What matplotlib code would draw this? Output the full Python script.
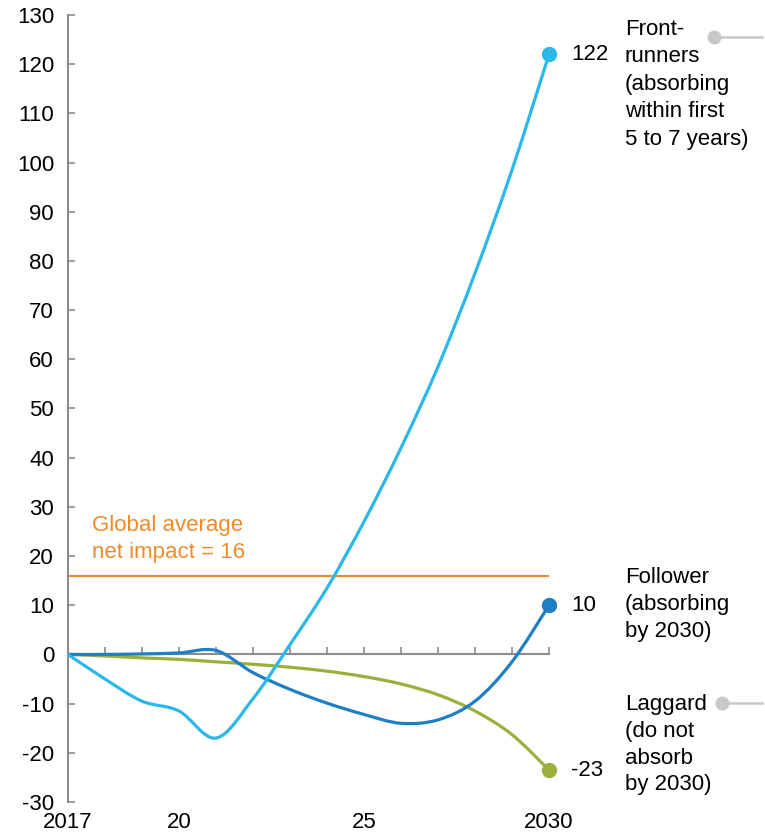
import numpy as np
import matplotlib.pyplot as plt
from matplotlib.path import Path
from matplotlib.patches import PathPatch
from matplotlib.lines import Line2D

plt.rcParams['font.family'] = ['Liberation Sans', 'DejaVu Sans']
plt.rcParams['axes.unicode_minus'] = False

years = [2017, 2018, 2019, 2020, 2021, 2022, 2023, 2024, 2025, 2026, 2027, 2028, 2029, 2030]
front_runners = [0, -5, -9.5, -11.5, -17, -9, 2, 13.5, 27, 42, 58.5, 77.5, 98.5, 122]
follower = [0, 0, 0.1, 0.3, 0.8, -3.7, -7.1, -9.9, -12.2, -14, -13.3, -9.5, -1.5, 10]
laggard = [0, -0.3, -0.7, -1.0, -1.5, -2.0, -2.6, -3.4, -4.5, -6.0, -8.2, -11.5, -16.3, -23.5]
global_avg = 16
end_labels = ['122', '10', '-23']

c_front = '#2cb7ea'
c_follow = '#1f7fc3'
c_lag = '#9bb03c'
c_avg = '#f08a2a'
c_axis = '#8c8c8c'
fs = 16


def smooth_path(x, y):
    # catmull-rom -> cubic bezier, drawn as a matplotlib path
    p = np.column_stack([x, y]).astype(float)
    p_ext = np.vstack([p[0], p, p[-1]])
    verts = [p[0]]
    codes = [Path.MOVETO]
    for i in range(len(p) - 1):
        p0, p1, p2, p3 = p_ext[i], p_ext[i + 1], p_ext[i + 2], p_ext[i + 3]
        verts += [p1 + (p2 - p0) / 6.0, p2 - (p3 - p1) / 6.0, p2]
        codes += [Path.CURVE4] * 3
    return Path(verts, codes)


fig = plt.figure(figsize=(7.65, 8.35), dpi=100)
ax = fig.add_axes([68 / 765, 1 - 802 / 835, (549 - 68) / 765, (802 - 15) / 835])
ax.set_xlim(2017, 2030)
ax.set_ylim(-30, 130)

ax.axhline(global_avg, color=c_avg, lw=1.5, zorder=2)

for vals, c in [(laggard, c_lag), (follower, c_follow), (front_runners, c_front)]:
    ax.add_patch(PathPatch(smooth_path(years, vals), fill=False, edgecolor=c, lw=2.3,
                           capstyle='round', joinstyle='round', zorder=3))

for vals, c, lab in zip([front_runners, follower, laggard], [c_front, c_follow, c_lag], end_labels):
    ax.plot(years[-1], vals[-1], 'o', color=c, ms=10, clip_on=False, zorder=4)
    ax.annotate(lab, xy=(years[-1], vals[-1]), xytext=(16, 0), textcoords='offset points',
                ha='left', va='center', fontsize=fs, annotation_clip=False)

ax.text(2017.65, 18.6, 'Global average\nnet impact = 16', color=c_avg, fontsize=fs,
        ha='left', va='bottom', linespacing=1.4)

# axes styling
for s in ['top', 'right']:
    ax.spines[s].set_visible(False)
ax.spines['bottom'].set_position(('data', 0))
ax.spines['left'].set_color(c_axis)
ax.spines['bottom'].set_color(c_axis)
ax.spines['left'].set_linewidth(1.5)
ax.spines['bottom'].set_linewidth(1.5)

ax.set_xticks(years)
ax.set_xticklabels([])
ax.tick_params(axis='x', direction='in', length=5, width=1.2, color=c_axis)
ax.set_yticks(np.arange(-30, 131, 10))
ax.tick_params(axis='y', direction='in', length=5, width=1.2, color=c_axis,
               labelsize=fs, pad=10)

sec = ax.secondary_xaxis(0)
sec.set_xticks([2017, 2020, 2025, 2030])
sec.set_xticklabels(['2017', '20', '25', '2030'])
sec.tick_params(length=0, labelsize=fs, pad=7)
sec.spines['bottom'].set_visible(False)

# group labels on the right
fig.text(625 / 765, 1 - 19 / 835, 'Front-\nrunners\n(absorbing\nwithin first\n5 to 7 years)',
         fontsize=fs, ha='left', va='top', linespacing=1.4)
fig.text(625 / 765, 1 - 567 / 835, 'Follower\n(absorbing\nby 2030)',
         fontsize=fs, ha='left', va='top', linespacing=1.36)
fig.text(625 / 765, 1 - 694 / 835, 'Laggard\n(do not\nabsorb\nby 2030)',
         fontsize=fs, ha='left', va='top', linespacing=1.36)

for px, py in [(714, 37), (722, 703)]:
    fig.add_artist(Line2D([px / 765, 762 / 765], [1 - py / 835] * 2, color='#c8c8c8', lw=1.8))
    fig.add_artist(Line2D([px / 765], [1 - py / 835], marker='o', ms=9, color='#c8c8c8', lw=0))

fig.savefig('out.png', dpi=100)
